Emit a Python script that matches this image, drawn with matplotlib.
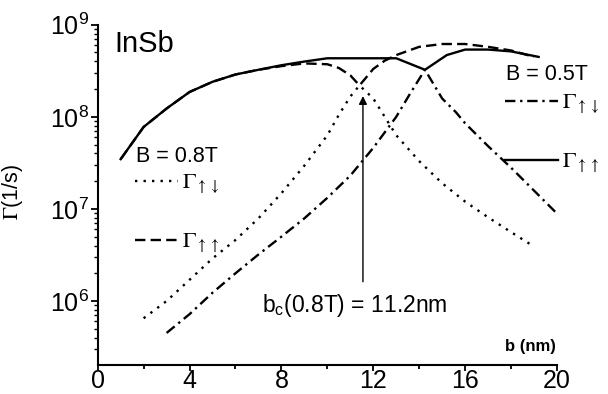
import matplotlib
matplotlib.use("Agg")
import matplotlib.pyplot as plt
from matplotlib.font_manager import FontProperties
from matplotlib.ticker import FixedLocator, FixedFormatter, LogLocator, NullFormatter
import numpy as np

plt.rcParams['font.family'] = ['Liberation Sans', 'DejaVu Sans']

# ---- data (b in nm, Gamma in 1/s) ----
# B = 0.8T, Gamma up-up (dashed)
b_uu08 = [1, 2, 3, 4, 5, 6, 7, 8, 9, 10, 10.5, 11, 11.4, 12, 12.5, 13, 14, 15, 16, 17, 18, 19]
g_uu08 = [3.47e7, 7.76e7, 1.23e8, 1.86e8, 2.40e8, 2.88e8, 3.24e8, 3.55e8, 3.80e8, 3.72e8, 3.39e8,
          2.82e8, 2.19e8, 3.31e8, 4.07e8, 4.68e8, 5.75e8, 6.17e8, 6.17e8, 5.75e8, 5.25e8, 4.47e8]
# B = 0.8T, Gamma up-down (dotted)
b_ud08 = [2, 3, 4, 5, 6, 7, 8, 9, 10, 10.5, 11, 11.4, 12, 12.5, 13, 14, 15, 16, 17, 18, 19]
g_ud08 = [6.5e5, 1.0e6, 1.7e6, 2.9e6, 4.6e6, 7.9e6, 1.48e7, 2.95e7, 6.3e7, 1.05e8, 1.66e8,
          2.19e8, 1.58e8, 1.0e8, 6.3e7, 3.3e7, 1.9e7, 1.2e7, 8.1e6, 5.6e6, 3.9e6]
# B = 0.5T, Gamma up-up (solid)
b_uu05 = [1, 2, 3, 4, 5, 6, 7, 8, 9, 10, 11, 12, 13, 14.25, 15.2, 16, 17, 18, 19.2]
g_uu05 = [3.47e7, 7.76e7, 1.23e8, 1.86e8, 2.40e8, 2.88e8, 3.24e8, 3.63e8, 3.98e8, 4.32e8,
          4.32e8, 4.32e8, 4.32e8, 3.24e8, 4.68e8, 5.37e8, 5.37e8, 5.13e8, 4.47e8]
# B = 0.5T, Gamma up-down (dash-dot)
b_ud05 = [3, 4, 5, 6, 7, 8, 9, 10, 11, 12, 13, 13.6, 14.25, 15, 15.6, 16, 17, 18, 19, 20]
g_ud05 = [4.5e5, 7.2e5, 1.23e6, 2.0e6, 3.2e6, 5.0e6, 7.9e6, 1.32e7, 2.3e7, 4.6e7, 1.0e8,
          1.78e8, 3.24e8, 1.58e8, 1.12e8, 8.5e7, 4.8e7, 2.8e7, 1.58e7, 8.9e6]

# critical b marker (arrow)
bc_x = 11.55
bc_arrow_from = 1.62e6
bc_arrow_to = 1.68e8

xticks = [0, 4, 8, 12, 16, 20]
xticklabels = ['0', '4', '8', '12', '16', '20']
yticks = [1e6, 1e7, 1e8, 1e9]
yticklabels = [r'$\mathregular{10^{6}}$', r'$\mathregular{10^{7}}$',
               r'$\mathregular{10^{8}}$', r'$\mathregular{10^{9}}$']

# ---- figure ----
W, H = 608, 394
fig = plt.figure(figsize=(W / 100, H / 100), dpi=100)
x0, x1, ytop, ybot = 97.7, 557.0, 24.7, 365.0
ax = fig.add_axes([x0 / W, 1 - ybot / H, (x1 - x0) / W, (ybot - ytop) / H])


def afx(px):
    return (px - x0) / (x1 - x0)


def afy(py):
    return (ybot - py) / (ybot - ytop)


lw = 1.7
l_ud08, = ax.plot(b_ud08, g_ud08, color='black', lw=lw, linestyle=(0, (1, 2.6)))
l_uu08, = ax.plot(b_uu08, g_uu08, color='black', lw=lw, linestyle=(0, (4.4, 2.2)))
l_ud05, = ax.plot(b_ud05, g_ud05, color='black', lw=lw, linestyle=(0, (4.4, 2.0, 1, 2.0)))
l_uu05, = ax.plot(b_uu05, g_uu05, color='black', lw=lw, linestyle='-')

ax.set_yscale('log')
ax.set_xlim(0, 20)
ax.set_ylim(2.02e5, 1e9)

ax.xaxis.set_major_locator(FixedLocator(xticks))
ax.xaxis.set_major_formatter(FixedFormatter(xticklabels))
ax.xaxis.set_minor_locator(FixedLocator([2, 6, 10, 14, 18]))
ax.yaxis.set_major_locator(FixedLocator(yticks))
ax.yaxis.set_major_formatter(FixedFormatter(yticklabels))
ax.yaxis.set_minor_locator(LogLocator(base=10, subs=np.arange(2, 10), numticks=20))
ax.yaxis.set_minor_formatter(NullFormatter())

for s in ['top', 'right']:
    ax.spines[s].set_visible(False)
for s in ['left', 'bottom']:
    ax.spines[s].set_linewidth(1.5)

ax.tick_params(axis='x', which='major', direction='out', length=4, width=1.3, labelsize=18, pad=-1)
ax.tick_params(axis='x', which='minor', direction='out', length=3, width=1.3)
ax.tick_params(axis='y', which='major', direction='out', length=5, width=1.3, labelsize=18, pad=1)
ax.tick_params(axis='y', which='minor', direction='out', length=3, width=1.0)

ax.set_ylabel(r'$\Gamma$(1/s)', fontsize=15.5, math_fontfamily='stix')
ax.yaxis.set_label_coords(afx(25), afy(192))

# arrow
ax.annotate('', xy=(bc_x, bc_arrow_to), xytext=(bc_x, bc_arrow_from),
            arrowprops=dict(arrowstyle='-|>', color='black', lw=1.0,
                            mutation_scale=12, shrinkA=0, shrinkB=0))

# texts
ax.text(afx(114), afy(44), 'InSb', transform=ax.transAxes, fontsize=21, ha='left', va='center')
ax.text(afx(262), afy(312), r'b$_\mathregular{c}$(0.8T) = 11.2nm', transform=ax.transAxes,
        fontsize=16.5, ha='left', va='baseline')
ax.text(afx(556), afy(347), 'b (nm)', transform=ax.transAxes, fontsize=12,
        fontweight='bold', ha='right', va='center')
ax.text(afx(136), afy(156), 'B = 0.8T', transform=ax.transAxes, fontsize=15.5,
        ha='left', va='center')
ax.text(afx(506), afy(74), 'B = 0.5T', transform=ax.transAxes, fontsize=15.5,
        ha='left', va='center')

# legends
lab_ud = r'$\Gamma_{\uparrow\downarrow}$'
lab_uu = r'$\Gamma_{\uparrow\uparrow}$'
prop = FontProperties(family='Liberation Sans', size=16, math_fontfamily='stix')

leg1 = ax.legend([l_ud08, l_uu08], [lab_ud, lab_uu], prop=prop,
                 frameon=False, loc='upper left',
                 bbox_to_anchor=(afx(135), afy(173)),
                 borderpad=0, borderaxespad=0, handlelength=1.95, handletextpad=0.15,
                 labelspacing=1.6)
ax.add_artist(leg1)
leg2 = ax.legend([l_ud05, l_uu05], [lab_ud, lab_uu], prop=prop,
                 frameon=False, loc='upper left',
                 bbox_to_anchor=(afx(505), afy(93)),
                 borderpad=0, borderaxespad=0, handlelength=2.4, handletextpad=0.15,
                 labelspacing=1.6)

fig.savefig('out.png', dpi=100)
